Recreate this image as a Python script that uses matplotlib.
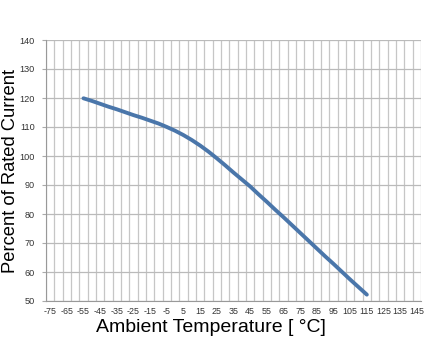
import matplotlib
matplotlib.use("Agg")
import matplotlib.pyplot as plt
import numpy as np

temps = [-55, -50, -45, -40, -35, -30, -25, -20, -15, -10, -5, 0, 5, 10, 15, 20,
         25, 30, 35, 40, 45, 50, 55, 60, 65, 70, 75, 80, 85, 90, 95, 100, 105, 110, 115]
percent = [119.9, 119.0, 118.0, 117.0, 116.1, 115.1, 114.1, 113.2, 112.2, 111.2,
           110.0, 108.7, 107.2, 105.5, 103.6, 101.5, 99.2, 96.8, 94.3, 91.9,
           89.5, 86.8, 84.2, 81.5, 78.9, 76.2, 73.5, 70.8, 68.1, 65.4,
           62.8, 60.1, 57.4, 54.8, 52.2]
xtick_labels = list(range(-75, 146, 10))
yticks = list(range(50, 141, 10))

plt.rcParams['font.family'] = ['Liberation Sans', 'DejaVu Sans']

fig = plt.figure(figsize=(4.28, 3.42), dpi=100)
ax = fig.add_axes([46/428, 1-301/342, 375/428, 261/342])

ax.set_xlim(-77.5, 147.5)
ax.set_ylim(50, 140)

for gx in np.arange(-77.5, 148, 5):
    ax.axvline(gx, color='#c6c6c6', lw=0.9, zorder=1)
for gy in yticks:
    ax.axhline(gy, color='#bababa', lw=0.9, zorder=1)

ax.plot(temps, percent, color='#4a76aa', lw=2.8, solid_capstyle='round',
        solid_joinstyle='round', zorder=3)

ax.set_xticks(xtick_labels)
ax.set_xticklabels([str(v) for v in xtick_labels], fontsize=6.4, color='#333333')
ax.set_yticks(yticks)
ax.set_yticklabels([str(v) for v in yticks], fontsize=6.6, color='#333333')
ax.tick_params(axis='x', length=0, pad=4)
ax.tick_params(axis='y', length=3, width=0.8, color='#aaaaaa', pad=5)

for s in ax.spines.values():
    s.set_visible(False)
ax.spines['left'].set_visible(True)
ax.spines['left'].set_color('#999999')
ax.spines['bottom'].set_visible(True)
ax.spines['bottom'].set_color('#999999')

fig.text(211/428, 1-328/342, 'Ambient Temperature [ °C]', fontsize=14,
         ha='center', va='center')
fig.text(11/428, 1-171/342, 'Percent of Rated Current', fontsize=13.2,
         ha='center', va='center', rotation=90)

fig.savefig('out.png', dpi=100)
